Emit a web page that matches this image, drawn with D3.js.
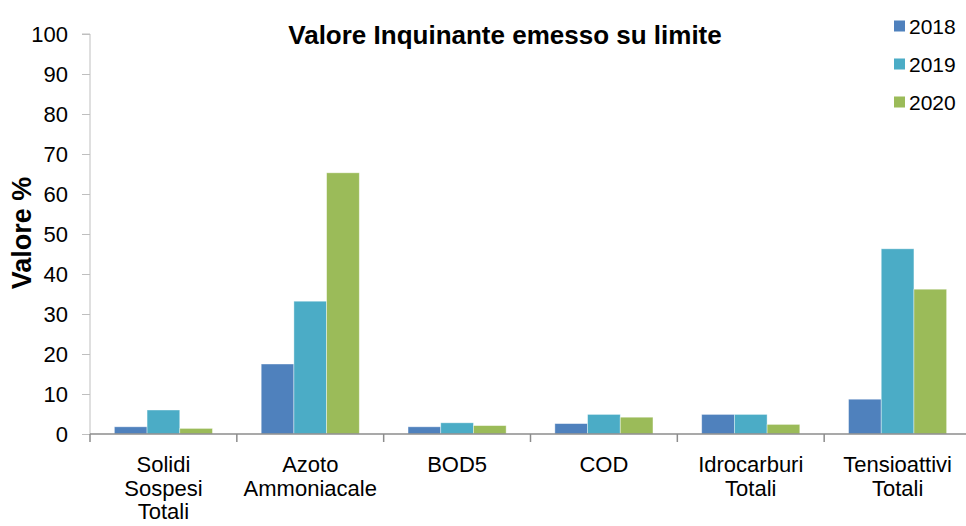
<!DOCTYPE html>
<html>
<head>
<meta charset="utf-8">
<script src="https://cdn.jsdelivr.net/npm/d3@7"></script>
<style>
  body { margin: 0; background: #fff; }
  svg { display: block; font-family: "Liberation Sans", Arial, sans-serif; }
</style>
</head>
<body>
<svg id="chart" width="966" height="526"></svg>
<script>
const categories = [
  ['Solidi', 'Sospesi', 'Totali'],
  ['Azoto', 'Ammoniacale'],
  ['BOD5'],
  ['COD'],
  ['Idrocarburi', 'Totali'],
  ['Tensioattivi', 'Totali']
];
const years = ['2018', '2019', '2020'];
const values2018 = [1.8, 17.5, 1.8, 2.6, 4.9, 8.7];
const values2019 = [6.0, 33.2, 2.8, 4.9, 4.9, 46.3];
const values2020 = [1.4, 65.3, 2.1, 4.2, 2.4, 36.2];
const yTicks = [0, 10, 20, 30, 40, 50, 60, 70, 80, 90, 100];
const colors = ['#4F81BD', '#4BACC6', '#9BBB59'];

const series = [values2018, values2019, values2020];
const keys = categories.map(c => c.join(' '));

const svg = d3.select('#chart');
const plotLeft = 90, plotRight = 971, plotTop = 34, plotBottom = 434;

const x0 = d3.scaleBand()
  .domain(keys)
  .range([plotLeft, plotRight])
  .padding(0);

const x1 = d3.scaleBand()
  .domain(years)
  .range([0, x0.bandwidth()])
  .paddingInner(0)
  .paddingOuter(0.745);

const y = d3.scaleLinear()
  .domain([0, 100])
  .range([plotBottom, plotTop]);

// bars
const groups = svg.append('g')
  .attr('class', 'bars')
  .selectAll('g')
  .data(keys)
  .enter()
  .append('g')
  .attr('transform', d => `translate(${x0(d)},0)`);

groups.selectAll('rect')
  .data((d, i) => years.map((yr, j) => ({ year: yr, value: series[j][i], color: colors[j] })))
  .enter()
  .append('rect')
  .attr('x', d => x1(d.year))
  .attr('width', x1.bandwidth())
  .attr('y', d => y(d.value))
  .attr('height', d => y(0) - y(d.value))
  .attr('fill', d => d.color)
  .attr('stroke', '#ffffff')
  .attr('stroke-opacity', 0.5)
  .attr('stroke-width', 0.8);

// y axis
const yAxis = svg.append('g')
  .attr('class', 'yAxis')
  .attr('transform', `translate(${plotLeft},0)`)
  .call(d3.axisLeft(y).tickValues(yTicks).tickSize(8).tickPadding(14));

yAxis.select('.domain')
  .attr('stroke', '#BFBFBF')
  .attr('d', `M-8,${plotTop}H0V${plotBottom}`);
yAxis.selectAll('.tick line').attr('stroke', '#BFBFBF');
yAxis.selectAll('.tick text')
  .attr('font-size', 22)
  .attr('fill', '#000');

// x axis
const xAxis = svg.append('g')
  .attr('class', 'xAxis')
  .attr('transform', `translate(0,${plotBottom})`);

xAxis.append('line')
  .attr('x1', plotLeft)
  .attr('x2', plotRight)
  .attr('stroke', '#8C8C8C')
  .attr('stroke-width', 1.5);

xAxis.selectAll('.xtick')
  .data(keys.concat(['end']))
  .enter()
  .append('line')
  .attr('class', 'xtick')
  .attr('x1', d => d === 'end' ? plotRight : x0(d))
  .attr('x2', d => d === 'end' ? plotRight : x0(d))
  .attr('y1', 0)
  .attr('y2', 8)
  .attr('stroke', '#8C8C8C')
  .attr('stroke-width', 1.5);

const labels = xAxis.selectAll('.xlabel')
  .data(categories)
  .enter()
  .append('text')
  .attr('class', 'xlabel')
  .attr('text-anchor', 'middle')
  .attr('font-size', 22)
  .attr('fill', '#000')
  .attr('transform', (d, i) => `translate(${x0(keys[i]) + x0.bandwidth() / 2},38)`);

labels.selectAll('tspan')
  .data(d => d)
  .enter()
  .append('tspan')
  .attr('x', 0)
  .attr('y', (d, i) => i * 23.5)
  .text(d => d);

// title
svg.append('text')
  .attr('x', 505)
  .attr('y', 44)
  .attr('text-anchor', 'middle')
  .attr('font-size', 26)
  .attr('font-weight', 'bold')
  .text('Valore Inquinante emesso su limite');

// y label
svg.append('text')
  .attr('transform', 'translate(31,233) rotate(-90)')
  .attr('text-anchor', 'middle')
  .attr('font-size', 27)
  .attr('font-weight', 'bold')
  .text('Valore %');

// legend
const legend = svg.append('g')
  .attr('class', 'legend')
  .selectAll('g')
  .data(years)
  .enter()
  .append('g')
  .attr('transform', (d, i) => `translate(894,${26 + i * 38})`);

legend.append('rect')
  .attr('x', 0)
  .attr('y', -5.5)
  .attr('width', 11)
  .attr('height', 11)
  .attr('fill', (d, i) => colors[i]);

legend.append('text')
  .attr('x', 15)
  .attr('y', 7.5)
  .attr('font-size', 21)
  .text(d => d);
</script>
</body>
</html>
